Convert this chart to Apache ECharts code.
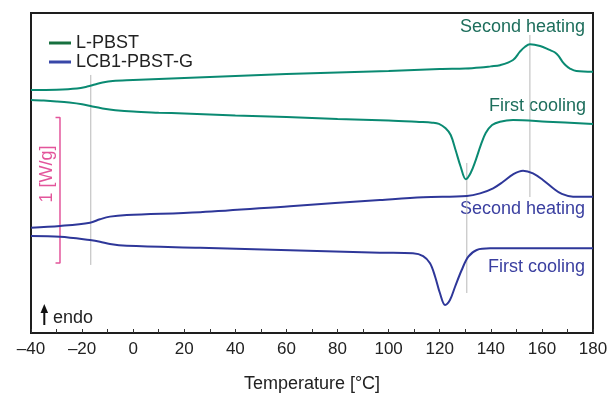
<!DOCTYPE html>
<html>
<head>
<meta charset="utf-8">
<script src="https://cdn.jsdelivr.net/npm/echarts@6/dist/echarts.min.js"></script>
<style>
  html, body { margin: 0; padding: 0; background: #fff; }
  #chart { width: 607px; height: 394px; }
</style>
</head>
<body>
<div id="chart"></div>
<script>
// DSC traces: [temperature °C, heat flow W/g (curves stacked with offsets)]
const lpbstHeating = [
  [-40, 1.671], [-30, 1.673], [-22, 1.681], [-18, 1.694], [-15, 1.708], [-12, 1.722],
  [-8, 1.733], [0, 1.739], [20, 1.753], [40, 1.767], [60, 1.781], [80, 1.791],
  [100, 1.801], [120, 1.815], [130, 1.818], [136, 1.825], [140, 1.833], [143.6, 1.841],
  [148.7, 1.877], [151.4, 1.934], [153.4, 1.968], [155.3, 1.985], [159.3, 1.973],
  [163, 1.946], [165, 1.930], [166.5, 1.905], [168, 1.866], [169.5, 1.837], [171, 1.818],
  [173.5, 1.801], [180, 1.796]
];
const lpbstCooling = [
  [-40, 1.602], [-35, 1.598], [-30, 1.592], [-25, 1.584], [-20, 1.572], [-16, 1.557],
  [-12, 1.544], [-7, 1.532], [0, 1.522], [10, 1.515], [20, 1.509], [40, 1.495], [60, 1.485],
  [80, 1.471], [100, 1.461], [112, 1.451], [117, 1.446], [119.7, 1.438], [122.3, 1.407],
  [124.3, 1.361], [126.2, 1.258], [128.2, 1.143], [130.2, 1.057], [132.1, 1.100],
  [134.1, 1.189], [136.1, 1.293], [138, 1.375], [140.5, 1.430], [143.6, 1.453],
  [148.7, 1.464], [162, 1.453], [180, 1.437]
];
const lcbHeating = [
  [-40, 0.724], [-28.6, 0.736], [-16.9, 0.758], [-13, 0.782], [-9.1, 0.800], [-2.5, 0.811],
  [26.2, 0.830], [61.4, 0.872], [96.6, 0.914], [113.5, 0.933], [130.6, 0.942],
  [135.8, 0.960], [140.9, 0.995], [144.8, 1.040], [148.7, 1.091], [152.6, 1.116],
  [156.5, 1.098], [160.4, 1.052], [164.4, 0.995], [167.8, 0.956], [172.2, 0.937], [180, 0.937]
];
const lcbCooling = [
  [-40, 0.667], [-28.6, 0.662], [-16.9, 0.639], [-13, 0.628], [-9.1, 0.612], [-2.5, 0.600],
  [26.2, 0.586], [61.4, 0.569], [96.6, 0.552], [109.5, 0.548], [113.5, 0.529],
  [116.2, 0.479], [118.2, 0.387], [120.1, 0.273], [122.1, 0.193], [124, 0.227],
  [126, 0.318], [128.6, 0.433], [131.2, 0.525], [134.5, 0.571], [139.7, 0.582], [180, 0.582]
];
// Transition markers: [temperature, lower end, upper end]
const guideLines = [
  [-16.6, 0.468, 1.774],
  [130.6, 0.275, 1.169],
  [155.3, 0.935, 2.049]
];
// 1 W/g scale bar
const scaleBar = { temp: -28.65, serifTemp: -30.4, from: 0.481, to: 1.481 };
const xTicks = [-40, -20, 0, 20, 40, 60, 80, 100, 120, 140, 160, 180];
const seriesNames = ['L-PBST', 'LCB1-PBST-G'];
const curveLabels = ['Second heating', 'First cooling', 'Second heating', 'First cooling'];

const GREEN = '#0a8a72';
const BLUE = '#2e3799';
const GREEN_TEXT = '#1d6e5c';
const BLUE_TEXT = '#3a3fa0';
const FONT = '"Liberation Sans", Arial, Helvetica, sans-serif';

const chart = echarts.init(document.getElementById('chart'), null, { renderer: 'canvas' });

const guideSeries = guideLines.map(g => ({
  type: 'line', silent: true, symbol: 'none', z: 1,
  data: [[g[0], g[1]], [g[0], g[2]]],
  lineStyle: { color: '#b8b8b8', width: 1 }
}));

const curve = (name, data, color) => ({
  name, type: 'line', data, smooth: 0.35, symbol: 'none', z: 3,
  lineStyle: { color, width: 2 }, itemStyle: { color }
});

const option = {
  animation: false,
  backgroundColor: '#fff',
  grid: {
    left: 31, right: 14, top: 13, bottom: 61, outerBoundsMode: 'none', containLabel: false,
    show: true, borderColor: '#1e1e1e', borderWidth: 2
  },
  legend: {
    orient: 'vertical', left: 44, top: 29, itemGap: 1,
    itemWidth: 22, itemHeight: 3, icon: 'rect',
    data: [
      { name: seriesNames[0], itemStyle: { color: '#17703f' } },
      { name: seriesNames[1], itemStyle: { color: '#3847a8' } }
    ],
    textStyle: { fontFamily: FONT, fontSize: 18, color: '#222', lineHeight: 18, padding: [0, 0, 0, 0] }
  },
  xAxis: {
    type: 'value', min: xTicks[0], max: xTicks[xTicks.length - 1], interval: 20,
    name: 'Temperature [°C]', nameLocation: 'middle', nameGap: 42,
    nameTextStyle: { fontFamily: FONT, fontSize: 18, color: '#222' },
    axisLine: { show: true, lineStyle: { color: '#1e1e1e', width: 2 } },
    axisTick: { show: true, inside: true, length: 4, lineStyle: { color: '#333', width: 1 } },
    minorTick: { show: true, splitNumber: 2, length: 4, lineStyle: { color: '#333', width: 1 } },
    splitLine: { show: false },
    axisLabel: {
      margin: 8, fontFamily: FONT, fontSize: 17, color: '#222',
      formatter: v => (v < 0 ? '\u2013' + Math.abs(v) : String(v))
    }
  },
  yAxis: { type: 'value', min: 0, max: 2.2, show: false, splitLine: { show: false } },
  series: [
    ...guideSeries,
    {
      type: 'line', silent: true, symbol: 'none', z: 2,
      data: [[scaleBar.serifTemp, scaleBar.to], [scaleBar.temp, scaleBar.to],
             [scaleBar.temp, scaleBar.from], [scaleBar.serifTemp, scaleBar.from]],
      lineStyle: { color: '#e3559b', width: 1.5 }
    },
    curve(seriesNames[0], lpbstHeating, GREEN),
    curve(seriesNames[0], lpbstCooling, GREEN),
    curve(seriesNames[1], lcbHeating, BLUE),
    curve(seriesNames[1], lcbCooling, BLUE)
  ],
  graphic: [
    { type: 'text', right: 22, top: 18, style: { text: curveLabels[0], font: '18px ' + FONT, fill: GREEN_TEXT } },
    { type: 'text', right: 21, top: 97, style: { text: curveLabels[1], font: '18px ' + FONT, fill: GREEN_TEXT } },
    { type: 'text', right: 22, top: 200, style: { text: curveLabels[2], font: '18px ' + FONT, fill: BLUE_TEXT } },
    { type: 'text', right: 22, top: 258, style: { text: curveLabels[3], font: '18px ' + FONT, fill: BLUE_TEXT } },
    {
      type: 'text', x: 47, y: 174, rotation: Math.PI / 2,
      style: { text: '1 [W/g]', font: '18px ' + FONT, fill: '#e3559b', align: 'center', verticalAlign: 'middle' }
    },
    { type: 'line', shape: { x1: 44.3, y1: 325, x2: 44.3, y2: 310 }, style: { stroke: '#111', lineWidth: 2 } },
    { type: 'polygon', shape: { points: [[40.5, 313], [44.3, 304], [48.1, 313]] }, style: { fill: '#111' } },
    { type: 'text', x: 53, y: 318, style: { text: 'endo', font: '18px ' + FONT, fill: '#222', verticalAlign: 'middle' } }
  ]
};

chart.setOption(option);
</script>
</body>
</html>
